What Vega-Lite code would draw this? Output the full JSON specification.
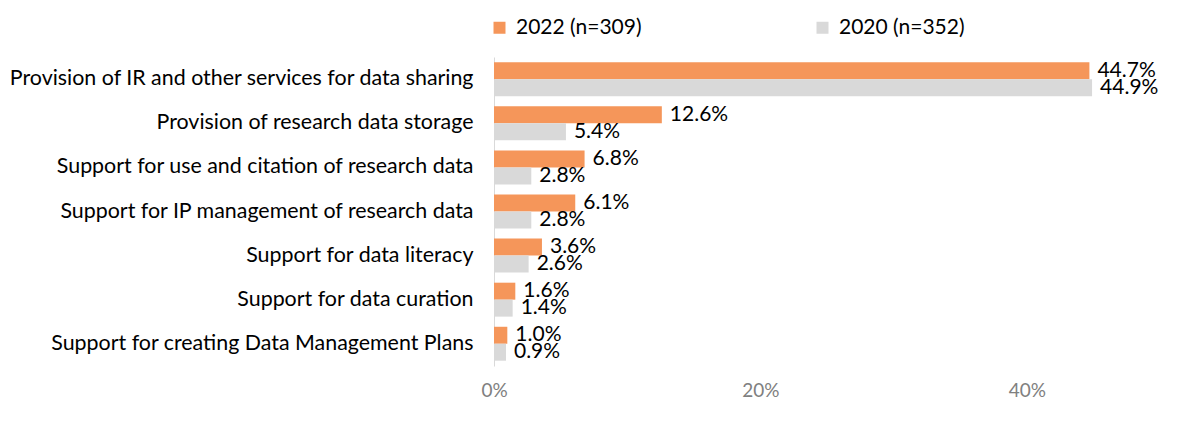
{
  "$schema": "https://vega.github.io/schema/vega-lite/v6.json",
  "autosize": {"type": "none"},
  "padding": {"left": 494, "top": 57, "right": 40, "bottom": 56},
  "width": 666,
  "height": 309,
  "background": "white",
  "config": {
    "view": {"stroke": null},
    "font": "Lato",
    "text": {"font": "Lato"}
  },
  "data": {
    "values": [
      {"item": "Provision of IR and other services for data sharing", "year": "2022 (n=309)", "share": 0.447},
      {"item": "Provision of IR and other services for data sharing", "year": "2020 (n=352)", "share": 0.449},
      {"item": "Provision of research data storage", "year": "2022 (n=309)", "share": 0.126},
      {"item": "Provision of research data storage", "year": "2020 (n=352)", "share": 0.054},
      {"item": "Support for use and citation of research data", "year": "2022 (n=309)", "share": 0.068},
      {"item": "Support for use and citation of research data", "year": "2020 (n=352)", "share": 0.028},
      {"item": "Support for IP management of research data", "year": "2022 (n=309)", "share": 0.061},
      {"item": "Support for IP management of research data", "year": "2020 (n=352)", "share": 0.028},
      {"item": "Support for data literacy", "year": "2022 (n=309)", "share": 0.036},
      {"item": "Support for data literacy", "year": "2020 (n=352)", "share": 0.026},
      {"item": "Support for data curation", "year": "2022 (n=309)", "share": 0.016},
      {"item": "Support for data curation", "year": "2020 (n=352)", "share": 0.014},
      {"item": "Support for creating Data Management Plans", "year": "2022 (n=309)", "share": 0.010},
      {"item": "Support for creating Data Management Plans", "year": "2020 (n=352)", "share": 0.009}
    ]
  },
  "encoding": {
    "y": {
      "field": "item",
      "type": "nominal",
      "sort": null,
      "title": null,
      "scale": {"paddingInner": 0.23, "paddingOuter": 0.12},
      "axis": {
        "ticks": false,
        "domainColor": "#d9d9d9",
        "labelFontSize": 21.4,
        "labelColor": "#000000",
        "labelPadding": 21,
        "labelLimit": 0
      }
    },
    "yOffset": {
      "field": "year",
      "type": "nominal",
      "sort": ["2022 (n=309)", "2020 (n=352)"]
    },
    "x": {
      "field": "share",
      "type": "quantitative",
      "title": null,
      "scale": {"domain": [0, 0.5]},
      "axis": {
        "values": [0, 0.2, 0.4],
        "format": ".0%",
        "domain": false,
        "ticks": false,
        "grid": false,
        "labelFlush": false,
        "labelColor": "#808080",
        "labelFontSize": 19,
        "labelPadding": 15
      }
    }
  },
  "layer": [
    {
      "mark": {"type": "bar"},
      "encoding": {
        "color": {
          "field": "year",
          "type": "nominal",
          "title": null,
          "scale": {
            "domain": ["2022 (n=309)", "2020 (n=352)"],
            "range": ["#f5965a", "#d9d9d9"]
          },
          "legend": {
            "orient": "none",
            "legendX": -5,
            "legendY": -40,
            "direction": "horizontal",
            "symbolType": "square",
            "symbolSize": 144,
            "symbolStrokeWidth": 0,
            "labelFontSize": 21,
            "labelColor": "#000000",
            "labelOffset": 6,
            "columnPadding": 170
          }
        }
      }
    },
    {
      "mark": {"type": "text", "align": "left", "baseline": "middle", "dx": 8, "fontSize": 21, "color": "#000000"},
      "encoding": {
        "text": {"field": "share", "type": "quantitative", "format": ".1%"}
      }
    }
  ]
}
